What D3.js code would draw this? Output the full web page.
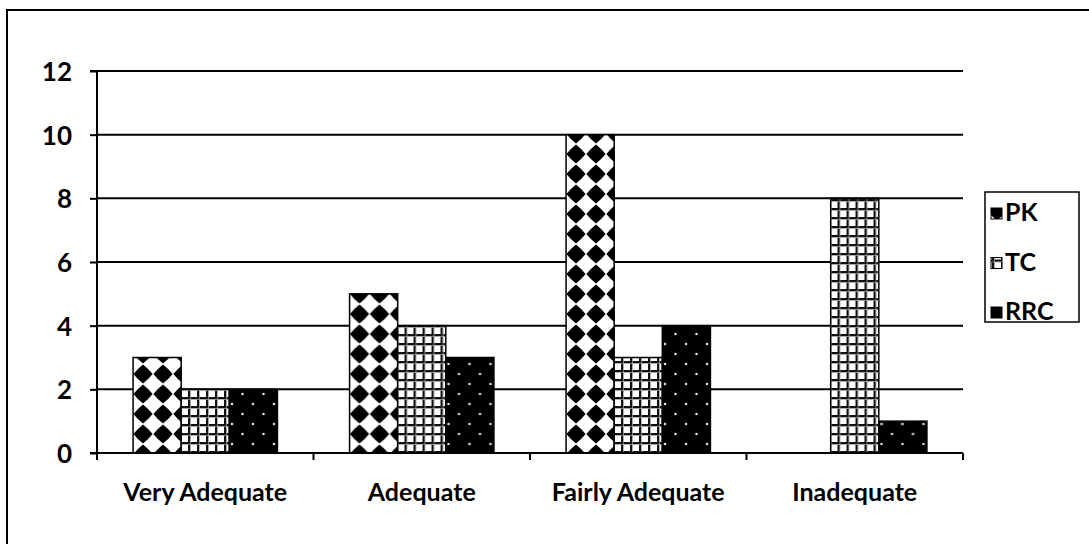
<!DOCTYPE html>
<html>
<head>
<meta charset="utf-8">
<script src="https://cdn.jsdelivr.net/npm/d3@7"></script>
<style>
  html, body { margin: 0; padding: 0; background: #fff; }
  svg { display: block; }
  text { font-family: Lato, "Open Sans", sans-serif; font-weight: 700; fill: #000; }
</style>
</head>
<body>
<svg id="chart" width="1089" height="544"></svg>
<script>
// Ratings of adequacy by respondent group
const categories = ["Very Adequate", "Adequate", "Fairly Adequate", "Inadequate"];
const seriesNames = ["PK", "TC", "RRC"];
const pkValues  = [3, 5, 10, 0];
const tcValues  = [2, 4, 3, 8];
const rrcValues = [2, 3, 4, 1];
const yTicks = [0, 2, 4, 6, 8, 10, 12];

const seriesValues = [pkValues, tcValues, rrcValues];

const svg = d3.select("#chart");
const margin = { left: 97, right: 126, top: 71, bottom: 91 };
const W = 1089, H = 544;
const plotW = W - margin.left - margin.right;
const plotH = H - margin.top - margin.bottom;

// Fill patterns for the three series
const defs = svg.append("defs");

// PK: black diamonds on white (rotated checkerboard)
const pk = defs.append("pattern")
  .attr("id", "pat-pk").attr("patternUnits", "userSpaceOnUse")
  .attr("width", 20).attr("height", 20).attr("x", 6).attr("y", 3);
pk.append("rect").attr("width", 20).attr("height", 20).attr("fill", "#fff");
const diamond = (cx, cy, r, k) =>
  `M${cx},${cy - r} Q${cx + r * k},${cy - r * k} ${cx + r},${cy} Q${cx + r * k},${cy + r * k} ${cx},${cy + r} Q${cx - r * k},${cy + r * k} ${cx - r},${cy} Q${cx - r * k},${cy - r * k} ${cx},${cy - r}Z`;
[[0, 0], [20, 0], [0, 20], [20, 20]].forEach(([cx, cy]) => {
  pk.append("path").attr("d", diamond(cx, cy, 9.6, 0.56)).attr("fill", "#000");
});

// TC: square grid
const tc = defs.append("pattern")
  .attr("id", "pat-tc").attr("patternUnits", "userSpaceOnUse")
  .attr("width", 9).attr("height", 9).attr("x", 1).attr("y", 2);
tc.append("rect").attr("width", 9).attr("height", 9).attr("fill", "#fff");
tc.append("rect").attr("x", 0).attr("y", 0).attr("width", 9).attr("height", 2).attr("fill", "#111");
tc.append("rect").attr("x", 0).attr("y", 0).attr("width", 2).attr("height", 9).attr("fill", "#111");
tc.append("rect").attr("x", 0).attr("y", 2).attr("width", 9).attr("height", 0.8).attr("fill", "#999");
tc.append("rect").attr("x", 2).attr("y", 0).attr("width", 0.8).attr("height", 9).attr("fill", "#999");

// RRC: black with sparse white dots
const rrc = defs.append("pattern")
  .attr("id", "pat-rrc").attr("patternUnits", "userSpaceOnUse")
  .attr("width", 21).attr("height", 20).attr("x", 4).attr("y", 8);
rrc.append("rect").attr("width", 21).attr("height", 20).attr("fill", "#000");
[[5, 5], [15.5, 15]].forEach(([cx, cy]) => {
  rrc.append("circle").attr("cx", cx).attr("cy", cy).attr("r", 1.3).attr("fill", "#ddd");
});

const fills = ["url(#pat-pk)", "url(#pat-tc)", "url(#pat-rrc)"];

// Outer frame
svg.append("rect")
  .attr("x", 7).attr("y", 10).attr("width", 1090).attr("height", 545)
  .attr("fill", "none").attr("stroke", "#000").attr("stroke-width", 2);

const g = svg.append("g").attr("transform", `translate(${margin.left},${margin.top})`);

const x0 = d3.scaleBand().domain(categories).range([0, plotW]).paddingInner(0).paddingOuter(0);
const x1 = d3.scaleBand().domain(seriesNames).range([0, x0.bandwidth()]).paddingInner(0).paddingOuter(0.75);
const y = d3.scaleLinear().domain([0, 12]).range([plotH, 0]);

// Horizontal gridlines
g.append("g").selectAll("line").data(yTicks.filter(t => t > 0)).join("line")
  .attr("x1", 0).attr("x2", plotW)
  .attr("y1", d => y(d)).attr("y2", d => y(d))
  .attr("stroke", "#000").attr("stroke-width", 2);

// Bars
const groups = g.append("g").selectAll("g").data(categories).join("g")
  .attr("transform", d => `translate(${x0(d)},0)`);
groups.selectAll("rect")
  .data((c, ci) => seriesNames.map((s, si) => ({ s, si, v: seriesValues[si][ci] })).filter(d => d.v > 0))
  .join("rect")
  .attr("x", d => x1(d.s))
  .attr("width", x1.bandwidth())
  .attr("y", d => y(d.v))
  .attr("height", d => y(0) - y(d.v))
  .attr("fill", d => fills[d.si])
  .attr("stroke", "#000").attr("stroke-width", 1.5);

// Y axis
const yAxis = g.append("g").call(d3.axisLeft(y).tickValues(yTicks).tickSize(7).tickPadding(18));
yAxis.select(".domain").attr("stroke", "#000").attr("stroke-width", 2).attr("d", `M-7,${y(12)}H0V${y(0)}H-7`);
yAxis.selectAll(".tick line").attr("stroke", "#000").attr("stroke-width", 2);
yAxis.selectAll(".tick text")
  .attr("font-size", 26).attr("font-family", "Lato, sans-serif").attr("font-weight", 700)
  .attr("dy", "0.36em");

// X axis with ticks at category boundaries
const xAxisG = g.append("g").attr("transform", `translate(0,${plotH})`);
xAxisG.append("line").attr("x1", 0).attr("x2", plotW).attr("y1", 0).attr("y2", 0)
  .attr("stroke", "#000").attr("stroke-width", 2);
const boundaries = categories.map(c => x0(c)).concat([plotW]);
xAxisG.selectAll("line.bnd").data(boundaries).join("line").attr("class", "bnd")
  .attr("x1", d => d).attr("x2", d => d).attr("y1", 0).attr("y2", 7)
  .attr("stroke", "#000").attr("stroke-width", 2);
xAxisG.selectAll("text").data(categories).join("text")
  .attr("x", d => x0(d) + x0.bandwidth() / 2)
  .attr("y", 48)
  .attr("text-anchor", "middle")
  .attr("font-size", 25)
  .text(d => d);

// Legend
const legend = svg.append("g").attr("transform", "translate(985,192)");
legend.append("rect").attr("width", 94).attr("height", 130)
  .attr("fill", "#fff").attr("stroke", "#000").attr("stroke-width", 1.5);
const items = legend.selectAll("g.item").data(seriesNames).join("g").attr("class", "item")
  .attr("transform", (d, i) => `translate(6,${16 + i * 49.5})`);
items.append("rect").attr("width", 11).attr("height", 11)
  .attr("fill", (d, i) => fills[i]).attr("stroke", "#000").attr("stroke-width", 1);
items.append("text").attr("x", 14).attr("y", 13).attr("font-size", 25).text(d => d);
</script>
</body>
</html>
